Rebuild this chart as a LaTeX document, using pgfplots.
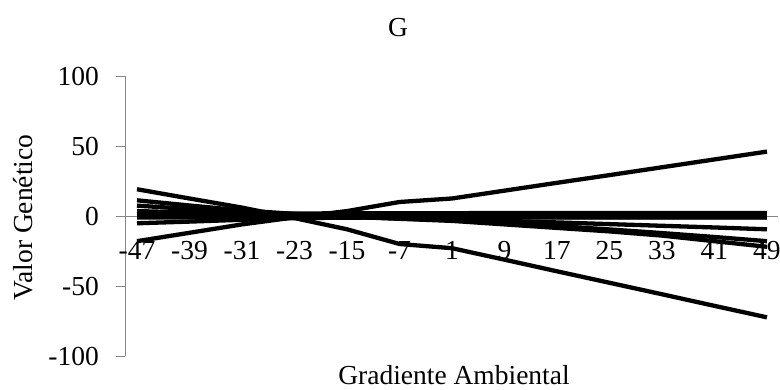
\documentclass[border=0pt]{standalone}
\usepackage{fontspec}
\setmainfont{Liberation Serif}
\usepackage{pgfplots}
\pgfplotsset{compat=1.18}
\definecolor{axisgray}{HTML}{868686}
\newcommand\fs{\fontsize{27.5}{31}\selectfont}
\begin{document}
\begin{tikzpicture}
\begin{axis}[
  scale only axis, width=653pt, height=280pt,
  xmin=-48.83, xmax=50.68, ymin=-100, ymax=100,
  axis x line=middle, axis y line=left,
  axis line style={draw=axisgray, line width=0.75pt, -},
  every inner x axis line/.append style={-},
  every outer y axis line/.append style={-},
  xtick={-47,-39,-31,-23,-15,-7,1,9,17,25,33,41,49},
  xticklabels={-47,-39,-31,-23,-15,-7,1,9,17,25,33,41,49},
  ytick={-100,-50,0,50,100},
  yticklabels={-100,-50,0,50,100},
  x tick style={draw=none},
  y tick style={draw=axisgray, line width=0.75pt},
  tick align=outside, major tick length=9pt,
  ticklabel style={font=\fs, inner sep=0pt, text=black},
  xticklabel style={anchor=north, yshift=-16pt},
  yticklabel style={anchor=east, xshift=-17pt},
  clip=false,
  every axis plot post/.append style={black, solid, line width=4.3pt, mark=none, line join=round},
]
% rising line
\addplot coordinates {(-47,-18) (-39,-12) (-31,-6) (-23,-1) (-15,3.5) (-7,10) (1,12.5) (9,18.1) (17,23.7) (25,29.2) (33,34.8) (41,40.4) (49,46)};
% falling line
\addplot coordinates {(-47,19.1) (-39,12.5) (-31,6) (-23,-1.5) (-15,-9.5) (-7,-20) (1,-23) (9,-31.2) (17,-39.5) (25,-47.7) (33,-55.9) (41,-64.2) (49,-72.4)};
% moderate lines
\addplot coordinates {(-47,11.2) (-39,7.5) (-31,4) (-23,1.5) (-15,-0.5) (-7,-2) (1,-3.5) (9,-6) (17,-8.5) (25,-11) (33,-14) (41,-18) (49,-22)};
\addplot coordinates {(-47,7.4) (-39,5) (-31,2.8) (-23,0.8) (-15,-0.5) (-7,-1.8) (1,-3) (9,-5) (17,-7.2) (25,-9.6) (33,-12.2) (41,-15) (49,-18)};
\addplot coordinates {(-47,3.5) (-39,2.5) (-31,1.5) (-23,0.5) (-15,-0.5) (-7,-1.5) (1,-2.5) (9,-3.5) (17,-4.6) (25,-5.8) (33,-7) (41,-8.2) (49,-9.5)};
\addplot coordinates {(-47,-5.2) (-39,-4) (-31,-2.7) (-23,-1.5) (-15,-1.2) (-7,-1) (1,-1) (9,-1) (17,-1) (25,-1) (33,-1) (41,-1) (49,-1)};
% bundle near zero
\addplot coordinates {(-47,2.2) (-39,2.1) (-31,2) (-23,1.8) (-15,1.9) (-7,2) (1,2) (9,2.1) (17,2.1) (25,2.1) (33,2.2) (41,2.2) (49,2.2)};
\addplot coordinates {(-47,1) (-39,1) (-31,1) (-23,0.9) (-15,1) (-7,1) (1,1) (9,1) (17,1) (25,1) (33,1) (41,1) (49,1)};
\addplot coordinates {(-47,0) (-39,0) (-31,0.1) (-23,0.2) (-15,0.2) (-7,0.3) (1,0.3) (9,0.4) (17,0.4) (25,0.4) (33,0.5) (41,0.5) (49,0.5)};
\addplot coordinates {(-47,-1.1) (-39,-1) (-31,-0.9) (-23,-0.6) (-15,-0.6) (-7,-0.7) (1,-0.7) (9,-0.7) (17,-0.8) (25,-0.8) (33,-0.8) (41,-0.8) (49,-0.8)};
\end{axis}
\node[font=\fs, anchor=base, inner sep=0pt] at (273pt,319pt) {G};
\node[font=\fs, anchor=base, inner sep=0pt] at (329pt,-29pt) {Gradiente Ambiental};
\node[font=\fs, anchor=base, inner sep=0pt, rotate=90] at (-92pt,138.5pt) {Valor Genético};
\pgfresetboundingbox
\path[use as bounding box] (-125pt,-34pt) rectangle (655pt,356pt);
\end{tikzpicture}
\end{document}
